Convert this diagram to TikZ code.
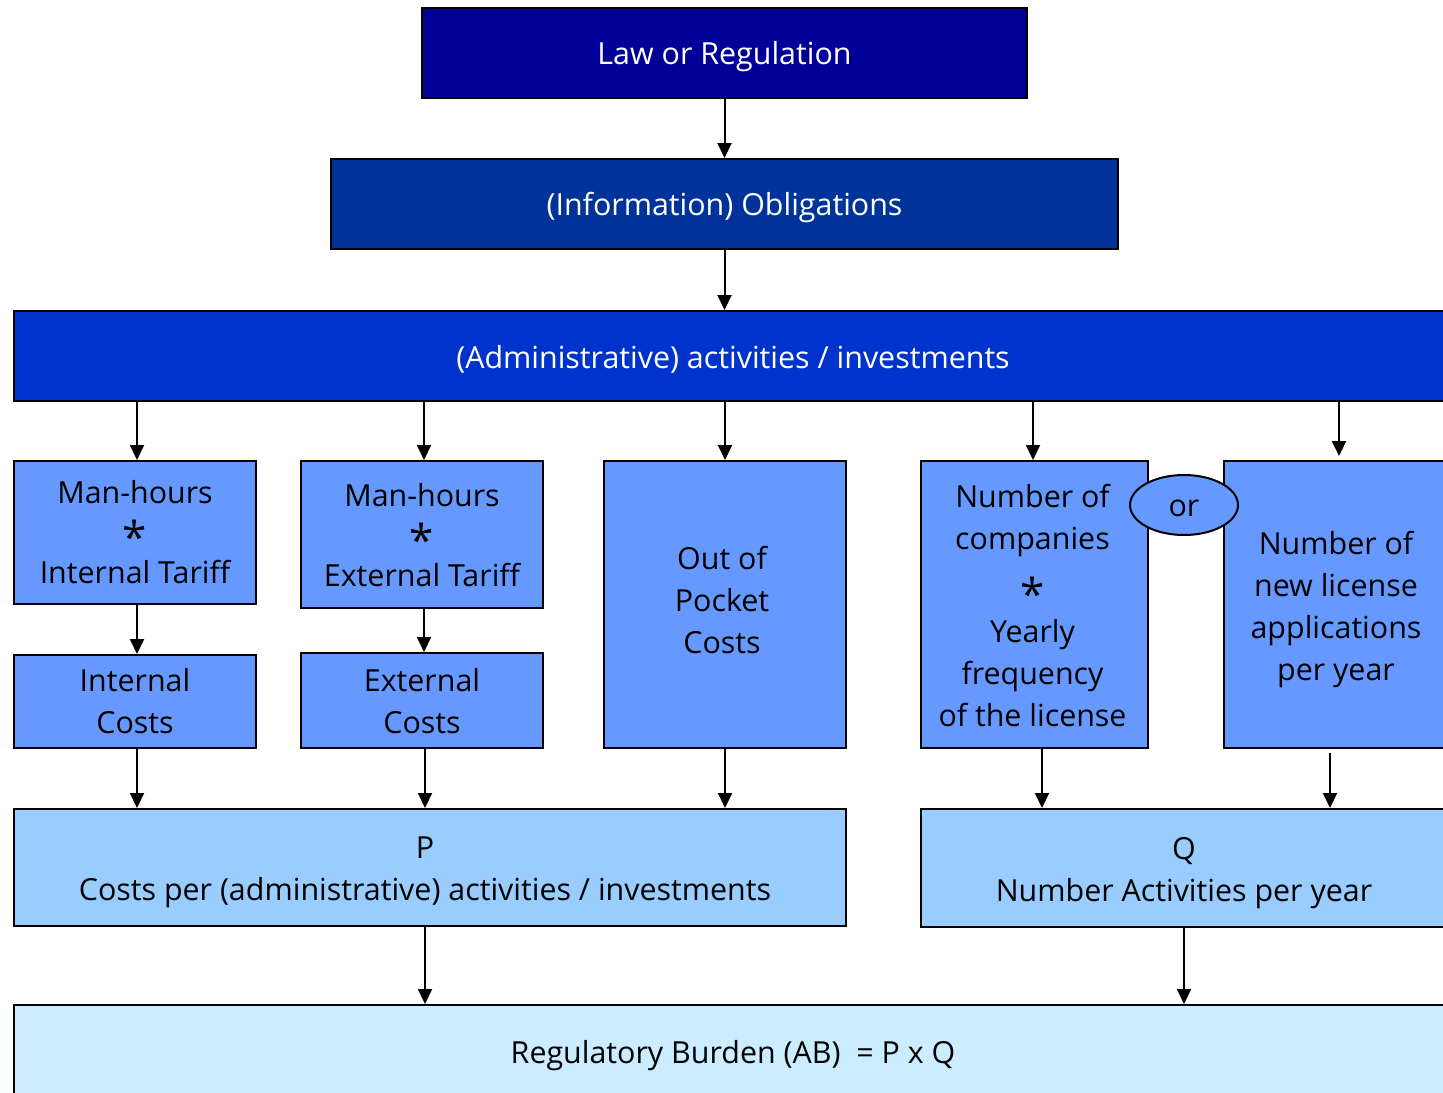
\documentclass[tikz,border=0pt]{standalone}
\usepackage{fontspec}
\setmainfont{Open Sans}
\usetikzlibrary{arrows.meta,shapes.geometric}
\definecolor{cLaw}{HTML}{000099}
\definecolor{cObl}{HTML}{003399}
\definecolor{cAdm}{HTML}{0033CC}
\definecolor{cMid}{HTML}{6699FF}
\definecolor{cPQ}{HTML}{99CCFF}
\definecolor{cAB}{HTML}{CCECFF}
\newcommand{\mystar}{{\fontsize{22}{22}\selectfont\raisebox{-6pt}{*}}}
\tikzset{
  box/.style={draw=black, line width=1pt, rectangle, inner sep=0pt},
  txt/.style={inner sep=0pt, align=center, font=\fontsize{15.2}{21}\selectfont},
  wtxt/.style={txt, text=white},
  arr/.style={line width=1pt, -{Triangle[length=7.5pt,width=7pt]}},
}
\begin{document}
\begin{tikzpicture}[x=0.5pt,y=-0.5pt]
\useasboundingbox (0,0) rectangle (1443,1092);
% top chain
\node[box, fill=cLaw, minimum width=302.5pt, minimum height=45pt] (law) at (724.5,53) {};
\node[wtxt] (lawt) at ([yshift=-2pt]law.center) {Law or Regulation};
\node[box, fill=cObl, minimum width=393.5pt, minimum height=45pt] (obl) at (724.5,204) {};
\node[wtxt] (oblt) at ([yshift=-2pt]obl.center) {(Information) Obligations};
\node[box, fill=cAdm, minimum width=719pt, minimum height=45pt] (adm) at (733,356) {};
\node[wtxt] (admt) at ([yshift=-1.5pt]adm.center) {(Administrative) activities / investments};
% middle boxes
\node[box, fill=cMid, minimum width=121pt, minimum height=71.5pt] (mh1) at (135,532.5) {};
\node[txt] (mh1t) at (mh1.center) {Man-hours\\[-2pt]\mystar\\[0pt]Internal Tariff};
\node[box, fill=cMid, minimum width=121pt, minimum height=73.5pt] (mh2) at (422,534.5) {};
\node[txt] (mh2t) at ([yshift=-0.5pt]mh2.center) {Man-hours\\[-2pt]\mystar\\[0pt]External Tariff};
\node[box, fill=cMid, minimum width=121pt, minimum height=143.5pt] (oop) at (725,604.5) {};
\node[txt] (oopt) at ([xshift=-1.5pt,yshift=2pt]oop.center) {Out of\\Pocket\\Costs};
\node[box, fill=cMid, minimum width=113.5pt, minimum height=143.5pt] (comp) at (1034.5,604.5) {};
\node[txt] (compt) at ([xshift=-1pt,yshift=-0.75pt]comp.center) {Number of\\companies\\[3.5pt]\mystar\\[1pt]Yearly\\frequency\\of the license};
\node[box, fill=cMid, minimum width=112pt, minimum height=143.5pt] (lic) at (1336,604.5) {};
\node[txt] (lict) at ([yshift=-2.5pt]lic.center) {Number of\\new license\\applications\\per year};
\node[box, fill=cMid, minimum width=54pt, minimum height=30pt, ellipse] (or) at (1184,505) {};
\node[txt] (ort) at ([yshift=-1.5pt]or.center) {or};
\node[box, fill=cMid, minimum width=121pt, minimum height=46.5pt] (ic) at (135,701.5) {};
\node[txt] (ict) at (ic.center) {Internal\\Costs};
\node[box, fill=cMid, minimum width=121pt, minimum height=47.5pt] (ec) at (422,700.5) {};
\node[txt] (ect) at ([yshift=-0.5pt]ec.center) {External\\Costs};
% P and Q
\node[box, fill=cPQ, minimum width=416pt, minimum height=58.5pt] (P) at (430,867.5) {};
\node[txt] (Pt) at ([xshift=-2.5pt,yshift=-2.5pt]P.center) {P\\Costs per (administrative) activities / investments};
\node[box, fill=cPQ, minimum width=263pt, minimum height=59pt] (Q) at (1184,868) {};
\node[txt] (Qt) at ([yshift=-2.5pt]Q.center) {Q\\Number Activities per year};
% burden
\node[box, fill=cAB, minimum width=719pt, minimum height=47.5pt] (ab) at (733,1052.5) {};
\node[txt] (abt) at ([yshift=-1.5pt]ab.center) {Regulatory Burden (AB) \ = P x Q};
% connectors
\draw[arr] (law.south) -- (obl.north);
\draw[arr] (obl.south) -- (obl.south |- adm.north);
\draw[arr] ([xshift=1pt]mh1.north |- adm.south) -- ([xshift=1pt]mh1.north);
\draw[arr] ([xshift=1pt]mh2.north |- adm.south) -- ([xshift=1pt]mh2.north);
\draw[arr] (oop.north |- adm.south) -- (oop.north);
\draw[arr] ([xshift=-0.75pt]comp.north |- adm.south) -- ([xshift=-0.75pt]comp.north);
\draw[arr, shorten >=2pt] ([xshift=1.5pt]lic.north |- adm.south) -- ([xshift=1.5pt]lic.north);
\draw[arr] ([xshift=1pt]mh1.south) -- ([xshift=1pt]ic.north);
\draw[arr] ([xshift=1pt]mh2.south) -- ([xshift=1pt]ec.north);
\draw[arr] ([xshift=1pt]ic.south) -- ([xshift=1pt]ic.south |- P.north);
\draw[arr] ([xshift=1.5pt]ec.south) -- ([xshift=1.5pt]ec.south |- P.north);
\draw[arr] (oop.south) -- (oop.south |- P.north);
\draw[arr] ([xshift=3.75pt]comp.south) -- ([xshift=3.75pt]comp.south |- Q.north);
\draw[arr, shorten <=2pt] ([xshift=-3pt]lic.south) -- ([xshift=-3pt]lic.south |- Q.north);
\draw[arr] ([xshift=-2.5pt]P.south) -- ([xshift=-2.5pt]P.south |- ab.north);
\draw[arr] (Q.south) -- (Q.south |- ab.north);
\end{tikzpicture}
\end{document}
